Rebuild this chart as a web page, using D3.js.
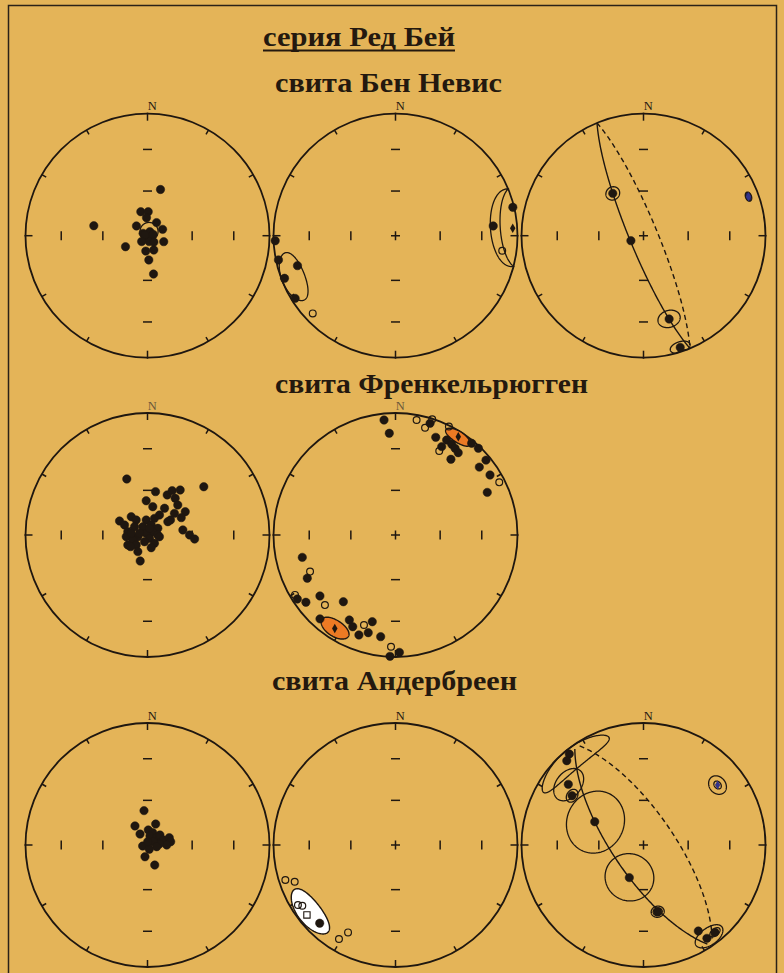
<!DOCTYPE html>
<html>
<head>
<meta charset="utf-8">
<script src="https://cdn.jsdelivr.net/npm/d3@7"></script>
<style>
  html, body { margin: 0; padding: 0; background: #E4B458; }
  svg { display: block; }
</style>
</head>
<body>
<svg id="chart" width="784" height="973"></svg>
<script>
// Directions are [declination, inclination] in degrees; negative inclination = upper hemisphere.
// Ovals are [declination, inclination, half-angle along declination, half-angle along inclination, kind].

// свита Бен Невис
const nevis1Dirs = [
  [15.7,57.7],[280.5,53.1],[344.4,73.4],[1.7,74.0],[356.8,78.0],[34.7,79.4],[311.4,80.2],
  [67.2,79.1],[110.2,78.5],[243.4,73.6],[186.3,79.7],[156.2,79.6],[176.9,73.8],[171.1,64.0],
  [298,86.7],[29.9,86.9],[104,87.3],[200,88.1],[164,85.9],[284.5,88.1],[77,86.1],[135,84],[225,84.5]
];
const nevis1Ovals = [[20, 87, 6, 6, "site"]];

const nevis2Dirs = [
  [267.6,1.5],[258.3,2.3],[253,17.1],[249,2.9],[238,3.4],[226.8,-7.7],
  [76.4,1.2],[84.3,20.6],[98,-12.7]
];
const nevis2Ovals = [[248, 10, 13, 10, "site"], [86, 4, 19, 19, "site"]];
const nevis2Means = [[86.4, 4.2]];

const nevis3Dirs = [[324,54.7],[248.5,81],[162.9,29.3],[161.8,4.1]];
const nevis3Ovals = [
  [324, 54.7, 4.5, 4.5, "site"], [162.9, 29.3, 6.5, 6.5, "site"],
  [161.8, 4.1, 5, 5, "site"], [69.6, 9, 2.4, 2.6, "pole"]
];
const nevis3Poles = [[69.6, 9]];
const nevis3Circle = [67.6, 9.4];

// свита Френкельрюгген
const frenk1Dirs = [
  [339.7,49.5],[49.4,39.1],[10.5,60.4],[26.2,60.0],[29.1,55.8],[36.0,52.4],[37.0,59.1],[357.8,67.1],[10.6,70.8],[32.5,68.8],
  [45.3,61.4],[58.3,60.2],[51.2,66.9],[62.8,64.6],[31.0,74.5],[56.9,71.7],[22.7,78.0],[318.3,73.7],[296.6,69.1],[293.5,73.3],
  [323.0,77.5],[355.0,80.0],[20.3,82.9],[330.5,83.7],[57.0,81.8],[58.0,85.9],[302.6,79.8],[279.5,76.7],[265.4,75.8],[260.0,83.5],
  [323.0,88.6],[90.0,83.2],[148.8,87.4],[251.2,79.7],[243.1,75.3],[228.5,80.0],[204.1,85.1],[139.9,82.8],[210.1,77.2],[235.5,76.3],
  [163.8,81.2],[195.7,72.0],[81.9,66.1],[90.0,61.8],[94.9,58.2],[98.1,82.0],[16.6,85.4],[56.8,73.8],[282.0,84.6],[276.0,79.1]
];
const frenk1Ovals = [[282.7, 80, 3, 3, "site"]];

const frenk2Dirs = [
  [354.3,5.9],[356.5,17.6],[17.2,4.7],[22.4,14.5],[27.6,19.4],[28.3,12.6],[31.8,13.6],[34.5,14.9],
  [37.3,16.3],[36.2,24.1],[39.7,2.6],[43.7,1.9],[50.4,4.2],[51.0,12.6],[57.6,9.1],[65.1,18.2],
  [10.4,-4.7],[15.4,-9.7],[17.6,-0.5],[27.5,-23.4],[26.2,-1.0],[63.1,-5.2],
  [256.5,22.5],[243.9,20.6],[236.9,4.4],[233.1,9.0],[231.1,21.5],[218.0,31.2],[222.0,8.3],[208.5,21.8],
  [205.0,18.2],[200.1,13.8],[195.6,18.0],[195.0,27.3],[188.3,16.9],[182.6,0.5],[178.1,4.2],
  [246.8,-24.8],[239.2,-4.6],[225.2,-19.6],[199.3,-22.9],[182.3,-9.2]
];
const frenk2Ovals = [[32.6, 5, 7, 5, "formation"], [213, 9.5, 8, 7, "formation"]];
const frenk2Means = [[32.6, 5], [213, 9.5]];

// свита Андербреен
const ander1Dirs = [
  [354.2,66.9],[326.7,74.8],[325.7,81.2],[21.3,75.0],[3.0,80.0],[22.9,81.1],[15.5,83.8],
  [50.1,82.0],[51.3,79.4],[72.4,79.0],[71.5,74.7],[81.9,74.4],[90.0,77.2],[85.2,82.1],
  [60.4,85.6],[100.5,83.8],[258.2,86.7],[157.3,86.9],[192.1,82.0],[160.2,75.8],[3.5,87.8]
];

const ander2Dirs = [
  [224.1,11.7],[252.4,-5.9],[250.0,-13.1],[238.4,-6.8],[236.9,-9.7],[208.5,-19.6],[211.0,-11.0]
];
const ander2Ovals = [[232, 11, 14, 10, "cluster"]];
const ander2Means = [[231.7, -8.3]];

const ander3Dirs = [
  [320.8,4.2],[317.7,7.3],[308.9,21.9],[304.6,29.6],[295.5,53.5],
  [203.5,66.2],[168.0,43.4],[147.5,17.5],[145.8,8.3],[140.7,8.3]
];
const ander3Ovals = [
  [320, 9, 22, 9, "site"], [308.9, 21.9, 10, 10, "site"], [304.6, 29.6, 4, 4, "site"],
  [295.5, 53.5, 20, 20, "site"], [203.5, 66.2, 16, 16, "site"], [168, 43.4, 4, 4, "site"],
  [168, 43.4, 2.8, 2.8, "site"], [144.3, 8.3, 8, 7.5, "site"], [140.7, 8.3, 3, 3, "site"],
  [51, 22.9, 5.5, 6.5, "site"], [51, 22.9, 2.4, 2.6, "site"]
];
const ander3Poles = [[51, 22.9]];
const ander3Circle = [55.8, 20.5];

const headings = [
  { text: "серия Ред Бей", x: 263, y: 46, len: 192, size: 28, underline: true },
  { text: "свита Бен Невис", x: 275, y: 92, len: 227, size: 27 },
  { text: "свита Френкельрюгген", x: 275, y: 393, len: 313, size: 27 },
  { text: "свита Андербреен", x: 272, y: 690, len: 245, size: 27 }
];

// ---------------------------------------------------------------------------
const svg = d3.select("#chart");
const W = 784, H = 973;
const R = 122;
const colX = [147.5, 395.5, 643.5];
const rowY = [235.7, 535, 845];
const ink = "#1f1710";
const kindFill = { site: "none", formation: "#EC7A24", cluster: "#ffffff", pole: "#25255f" };
const rad = Math.PI / 180;

// Lambert equal-area radius: r = R * sqrt(1 - sin|I|)
const rScale = d3.scaleSqrt().domain([0, 1]).range([0, R]);

function project(cx, cy, dec, inc) {
  const r = rScale(1 - Math.sin(Math.abs(inc) * rad));
  return [cx + r * Math.sin(dec * rad), cy - r * Math.cos(dec * rad)];
}
function toVec(dec, inc) {
  const d = dec * rad, i = inc * rad;
  return [Math.cos(i) * Math.cos(d), Math.cos(i) * Math.sin(d), Math.sin(i)];
}
function toDir(v) {
  const n = Math.hypot(v[0], v[1], v[2]);
  return [(Math.atan2(v[1], v[0]) / rad + 360) % 360, Math.asin(v[2] / n) / rad];
}
function cross(a, b) {
  return [a[1]*b[2]-a[2]*b[1], a[2]*b[0]-a[0]*b[2], a[0]*b[1]-a[1]*b[0]];
}

// Confidence cone around a mean direction, traced on the sphere
function ovalDirs(dec, inc, a, b) {
  const d = dec * rad, i = inc * rad;
  const m = toVec(dec, inc);
  const eD = [-Math.sin(d), Math.cos(d), 0];
  const eI = [-Math.sin(i) * Math.cos(d), -Math.sin(i) * Math.sin(d), Math.cos(i)];
  return d3.range(0, 360, 2).map(t => {
    const t1 = a * Math.cos(t * rad) * rad, t2 = b * Math.sin(t * rad) * rad;
    const th = Math.hypot(t1, t2);
    const v = m.map((mk, k) => mk * Math.cos(th) + (t1 * eD[k] + t2 * eI[k]) / th * Math.sin(th));
    return toDir(v);
  });
}

// Great circle from its pole: lower half and upper half
function greatCircleDirs(poleDec, poleInc, trim) {
  const n = toVec(poleDec, poleInc);
  let h = [-n[1], n[0], 0];
  const hn = Math.hypot(h[0], h[1]);
  h = h.map(x => x / hn);
  let w = cross(n, h);
  if (w[2] < 0) w = w.map(x => -x);
  const at = t => toDir(h.map((hk, k) => hk * Math.cos(t * rad) + w[k] * Math.sin(t * rad)));
  return {
    lower: d3.range(trim, 180 - trim + 0.5, 1).map(at),
    upper: d3.range(180 + trim, 360 - trim + 0.5, 1).map(at)
  };
}

const line = d3.line();

// Background and frame
svg.append("rect").attr("width", W).attr("height", H).attr("fill", "#E4B458");
svg.append("path")
  .attr("d", `M8.5,${H + 5} L8.5,5.5 L776.5,5.5 L776.5,${H + 5}`)
  .attr("fill", "none").attr("stroke", "#2a2218").attr("stroke-width", 1.5);

// Headings
headings.forEach(h => {
  svg.append("text")
    .attr("x", h.x).attr("y", h.y)
    .attr("textLength", h.len).attr("lengthAdjust", "spacingAndGlyphs")
    .attr("font-family", "'Liberation Serif', 'Times New Roman', serif")
    .attr("font-weight", "bold").attr("font-size", h.size)
    .attr("fill", "#24190f").text(h.text);
  if (h.underline) {
    svg.append("line").attr("x1", h.x).attr("x2", h.x + h.len)
      .attr("y1", h.y + 4.5).attr("y2", h.y + 4.5)
      .attr("stroke", "#24190f").attr("stroke-width", 1.8);
  }
});

function drawNet(cfg) {
  const cx = colX[cfg.col], cy = rowY[cfg.row];
  const g = svg.append("g");
  const P = (d, i) => project(cx, cy, d, i);

  // primitive circle
  g.append("circle").attr("cx", cx).attr("cy", cy).attr("r", R)
    .attr("fill", "none").attr("stroke", ink).attr("stroke-width", 1.8);

  // azimuth ticks every 30 degrees
  d3.range(0, 360, 30).forEach(az => {
    const cardinal = az % 90 === 0;
    const r0 = cardinal ? R - 7 : R - 5, r1 = cardinal ? R + 1 : R;
    const s = Math.sin(az * rad), c = Math.cos(az * rad);
    g.append("line")
      .attr("x1", cx + r0 * s).attr("y1", cy - r0 * c)
      .attr("x2", cx + r1 * s).attr("y2", cy - r1 * c)
      .attr("stroke", ink).attr("stroke-width", 1.5);
  });

  // inclination ticks at 30 and 60 degrees along the axes, centre cross
  [0, 90, 180, 270].forEach(az => {
    [30, 60].forEach(inc => {
      const [x, y] = P(az, inc);
      const horiz = az % 180 === 0;
      g.append("line")
        .attr("x1", horiz ? x - 4.5 : x).attr("x2", horiz ? x + 4.5 : x)
        .attr("y1", horiz ? y : y - 4.5).attr("y2", horiz ? y : y + 4.5)
        .attr("stroke", ink).attr("stroke-width", 1.5);
    });
  });
  g.append("path").attr("d", `M${cx - 4.5},${cy}H${cx + 4.5}M${cx},${cy - 4.5}V${cy + 4.5}`)
    .attr("stroke", ink).attr("stroke-width", 1.5);

  // north label
  g.append("text").attr("x", cx + 4.8).attr("y", cy - R - 3.5)
    .attr("text-anchor", "middle")
    .attr("font-family", "'Liberation Serif', 'Times New Roman', serif")
    .attr("font-size", 12.5)
    .attr("fill", cfg.row === 1 ? "#6a573a" : ink)
    .text("N");

  const ovals = cfg.ovals || [];
  const ovalPath = o => line(ovalDirs(o[0], o[1], o[2], o[3]).map(d => P(d[0], d[1]))) + "Z";

  // filled ovals underneath everything else
  ovals.filter(o => o[4] === "formation" || o[4] === "cluster").forEach(o => {
    g.append("path").attr("d", ovalPath(o))
      .attr("fill", kindFill[o[4]]).attr("stroke", ink).attr("stroke-width", 1.4);
  });

  // great circle: solid lower hemisphere, dashed upper hemisphere
  if (cfg.circle) {
    const gc = greatCircleDirs(cfg.circle[0], cfg.circle[1], cfg.trim || 0);
    g.append("path").attr("d", line(gc.lower.map(d => P(d[0], d[1]))))
      .attr("fill", "none").attr("stroke", ink).attr("stroke-width", 1.4);
    g.append("path").attr("d", line(gc.upper.map(d => P(d[0], d[1]))))
      .attr("fill", "none").attr("stroke", ink).attr("stroke-width", 1.4)
      .attr("stroke-dasharray", "5,3.5");
  }

  ovals.filter(o => o[4] === "site" || o[4] === "pole").forEach(o => {
    g.append("path").attr("d", ovalPath(o))
      .attr("fill", kindFill[o[4]]).attr("stroke", ink).attr("stroke-width", 1.3);
  });

  // directions: filled = lower hemisphere, open = upper hemisphere
  g.selectAll("circle.dir").data(cfg.dirs).join("circle")
    .attr("class", "dir")
    .attr("cx", d => P(d[0], d[1])[0])
    .attr("cy", d => P(d[0], d[1])[1])
    .attr("r", d => d[1] >= 0 ? 4.2 : 3.4)
    .attr("fill", d => d[1] >= 0 ? ink : "none")
    .attr("stroke", ink)
    .attr("stroke-width", d => d[1] >= 0 ? 0.5 : 1.2);

  (cfg.means || []).forEach(m => {
    const [x, y] = P(m[0], m[1]);
    g.append("path").attr("d", d3.symbol(d3.symbolDiamond, 26)())
      .attr("transform", `translate(${x},${y})`).attr("fill", ink);
  });
  (cfg.squares || []).forEach(m => {
    const [x, y] = P(m[0], m[1]);
    g.append("path").attr("d", d3.symbol(d3.symbolSquare, 40)())
      .attr("transform", `translate(${x},${y})`)
      .attr("fill", m[1] >= 0 ? ink : "none").attr("stroke", ink).attr("stroke-width", 1.1);
  });
  (cfg.poles || []).forEach(m => {
    const [x, y] = P(m[0], m[1]);
    g.append("path").attr("d", d3.symbol(d3.symbolDiamond, 24)())
      .attr("transform", `translate(${x},${y})`).attr("fill", "#34348a");
  });
}

const nets = [
  { col: 0, row: 0, dirs: nevis1Dirs, ovals: nevis1Ovals },
  { col: 1, row: 0, dirs: nevis2Dirs, ovals: nevis2Ovals, means: nevis2Means },
  { col: 2, row: 0, dirs: nevis3Dirs, ovals: nevis3Ovals, circle: nevis3Circle, poles: nevis3Poles },
  { col: 0, row: 1, dirs: frenk1Dirs, ovals: frenk1Ovals },
  { col: 1, row: 1, dirs: frenk2Dirs, ovals: frenk2Ovals, means: frenk2Means },
  { col: 0, row: 2, dirs: ander1Dirs },
  { col: 1, row: 2, dirs: ander2Dirs, ovals: ander2Ovals, squares: ander2Means },
  { col: 2, row: 2, dirs: ander3Dirs, ovals: ander3Ovals, circle: ander3Circle, poles: ander3Poles, trim: 4 }
];
nets.forEach(drawNet);
</script>
</body>
</html>
